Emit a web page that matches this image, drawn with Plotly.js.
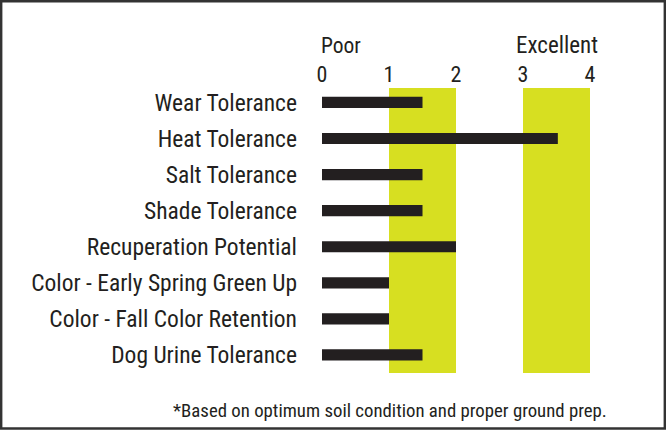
<!DOCTYPE html>
<html>
<head>
<meta charset="utf-8">
<script src="https://cdn.plot.ly/plotly-3.0.1.min.js"></script>
<style>html,body{margin:0;padding:0;background:#fff;}#chart{width:666px;height:430px;}</style>
</head>
<body>
<div id="chart"></div>
<script>
var categories = ["Wear Tolerance","Heat Tolerance","Salt Tolerance","Shade Tolerance","Recuperation Potential","Color - Early Spring Green Up","Color - Fall Color Retention","Dog Urine Tolerance"];
var ratings = [1.5, 3.52, 1.5, 1.5, 2, 1, 1, 1.5];
var tickVals = [0, 1, 2, 3, 4];
var tickText = ["0", "1", "2", "3", "4"];
var bands = [[1, 2], [3, 4]];
var scaleLabels = [{text: "Poor", x: 0.28, size: 21.5}, {text: "Excellent", x: 3.51, size: 23}];
var footnote = "*Based on optimum soil condition and proper ground prep.";

var FONT = "'Liberation Sans Narrow', 'Arial Narrow', 'Roboto Condensed', 'Liberation Sans', sans-serif";
var INK = "#231f20";
var W = 666, H = 430, L = 322, R = 76, T = 88, B = 57;
var pw = W - L - R, ph = H - T - B;
function px2x(p){ return (p - L) / pw; }
function py2y(p){ return (H - B - p) / ph; }

var shapes = bands.map(function(b){
  return {type: "rect", xref: "x", yref: "paper", x0: b[0], x1: b[1], y0: 0, y1: 1,
          fillcolor: "#d7df21", line: {width: 0}, layer: "below"};
});
shapes.push({type: "rect", xref: "paper", yref: "paper",
  x0: px2x(1.2), x1: px2x(664.8), y0: py2y(1.2), y1: py2y(428.5),
  line: {color: "#333333", width: 2.4}, fillcolor: "rgba(0,0,0,0)"});

var annotations = scaleLabels.map(function(s){
  return {text: s.text, x: s.x, xref: "x", y: py2y(46), yref: "paper", showarrow: false,
          xanchor: "center", yanchor: "middle", font: {family: FONT, size: s.size, color: INK}};
});
annotations.push({text: footnote, xref: "paper", yref: "paper", x: px2x(389.5), y: py2y(411),
  xanchor: "center", yanchor: "middle", showarrow: false,
  font: {family: FONT, size: 18.8, color: INK}});

var trace = {
  type: "bar", orientation: "h", y: categories, x: ratings, base: 0,
  width: 0.31, marker: {color: INK, line: {width: 0}}, hoverinfo: "skip"
};

var layout = {
  width: W, height: H,
  margin: {l: L, r: R, t: T, b: B},
  paper_bgcolor: "#ffffff", plot_bgcolor: "rgba(0,0,0,0)",
  showlegend: false,
  xaxis: {range: [0, 4], side: "top", tickvals: tickVals, ticktext: tickText,
          showgrid: false, zeroline: false, showline: false, ticks: "",
          tickfont: {family: FONT, size: 22, color: INK}, ticklabelstandoff: 1, fixedrange: true},
  yaxis: {type: "category", range: [7.5, -0.4], showgrid: false, zeroline: false, showline: false,
          ticks: "", ticklabelstandoff: 24, tickfont: {family: FONT, size: 23.5, color: INK}, fixedrange: true},
  shapes: shapes,
  annotations: annotations
};

Plotly.newPlot("chart", [trace], layout, {displayModeBar: false, staticPlot: true});
</script>
</body>
</html>
